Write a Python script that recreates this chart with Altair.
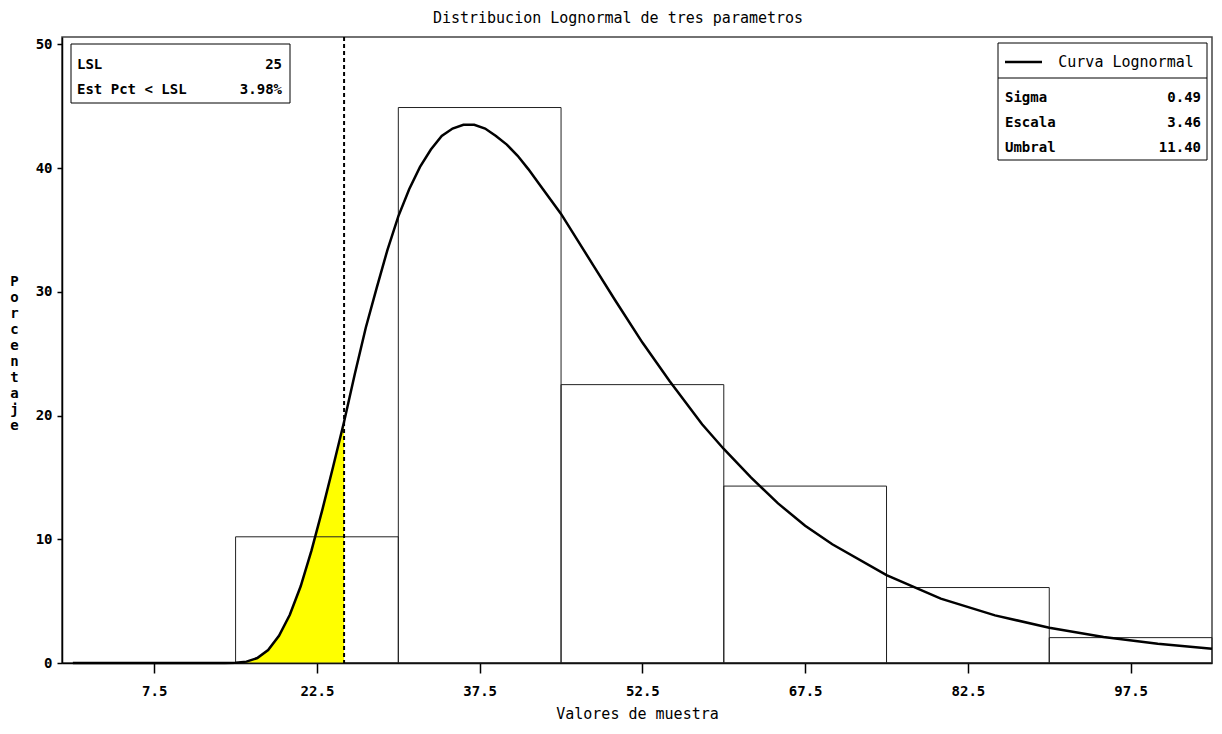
import altair as alt
import pandas as pd

# ---------------- data ----------------
bin_start = [15, 30, 45, 60, 75, 90]
bin_end = [30, 45, 60, 75, 90, 105]
bin_pct = [10.2, 44.9, 22.5, 14.3, 6.1, 2.05]

curve_x = [0, 5, 10, 12, 14, 15, 16, 17, 18, 19, 20, 21, 22, 23, 24, 25, 26, 27,
           28, 29, 30, 31, 32, 33, 34, 35, 36, 37, 38, 39, 40, 41, 42, 43, 45,
           46.5, 48, 50, 52.5, 55, 58, 60, 62.5, 65, 67.5, 70, 75, 80, 85, 90,
           95, 100, 105]
curve_y = [0, 0, 0, 0, 0, 0.02, 0.11, 0.40, 1.05, 2.2, 3.9, 6.2, 9.1, 12.4, 15.9,
           19.5, 23.4, 27.1, 30.3, 33.4, 36.1, 38.3, 40.1, 41.5, 42.6, 43.2, 43.5,
           43.5, 43.2, 42.6, 41.9, 41.0, 39.9, 38.7, 36.3, 34.2, 32.1, 29.3, 25.9,
           22.8, 19.3, 17.3, 15.0, 12.9, 11.1, 9.6, 7.1, 5.2, 3.85, 2.85, 2.1,
           1.55, 1.15]

x_ticks = [7.5, 22.5, 37.5, 52.5, 67.5, 82.5, 97.5]
y_ticks = [0, 10, 20, 30, 40, 50]
lsl_value = [25]

lsl_labels = ["LSL", "Est Pct < LSL"]
lsl_texts = ["25", "3.98%"]
fit_labels = ["Sigma", "Escala", "Umbral"]
fit_texts = ["0.49", "3.46", "11.40"]
legend_label = "Curva Lognormal"

title_text = "Distribucion Lognormal de tres parametros"
x_title = "Valores de muestra"
y_title = "Porcentaje"

# ---------------- layout ----------------
FONT = "DejaVu Sans Mono"
W, H = 1150, 626
PAD = {"left": 54, "top": 29, "right": 2, "bottom": 59}
X_DOMAIN = [-1, 105]
Y_DOMAIN = [0, 50.6]

bars = pd.DataFrame({"lo": bin_start, "hi": bin_end, "pct": bin_pct})
curve = pd.DataFrame({"x": curve_x, "y": curve_y})
lsl_df = pd.DataFrame({"lsl": lsl_value})

xs = alt.Scale(domain=X_DOMAIN, nice=False, zero=False)
ys = alt.Scale(domain=Y_DOMAIN, nice=False, zero=False)

x_axis = alt.Axis(values=x_ticks, format=".1f", title=x_title, grid=False,
                  labelFont=FONT, labelFontSize=14, labelFontWeight="bold",
                  labelColor="black", labelPadding=11, labelFlush=False,
                  tickSize=10, tickColor="black", tickWidth=1.5,
                  domainColor="black", domainWidth=1.5,
                  titleFont=FONT, titleFontSize=15, titleFontWeight="normal",
                  titleColor="black", titlePadding=8)
y_axis = alt.Axis(values=y_ticks, format="d", title=list(y_title), grid=False,
                  titleAngle=0, titleX=-48, titleY=237, titleAlign="center",
                  titleBaseline="top", titleLineHeight=16,
                  titleFont=FONT, titleFontSize=14, titleFontWeight="bold",
                  titleColor="black",
                  labelFont=FONT, labelFontSize=14, labelFontWeight="bold",
                  labelColor="black", labelPadding=5,
                  tickSize=5, tickColor="black", tickWidth=1.5,
                  domainColor="black", domainWidth=1.5)

area = alt.Chart(curve).transform_filter(
    (alt.datum.x >= 15) & (alt.datum.x <= lsl_value[0])
).mark_area(color="#FFFF00", opacity=1).encode(
    x=alt.X("x:Q", scale=xs, axis=x_axis),
    y=alt.Y("y:Q", scale=ys, axis=y_axis),
)

hist = alt.Chart(bars).mark_rect(fill="white", fillOpacity=0, stroke="#222",
                                  strokeWidth=1).encode(
    x=alt.X("lo:Q", scale=xs),
    x2="hi:Q",
    y=alt.Y("pct:Q", scale=ys),
    y2=alt.datum(0),
)

rule = alt.Chart(lsl_df).mark_rule(color="black", strokeWidth=2,
                                   strokeDash=[4, 3]).encode(
    x=alt.X("lsl:Q", scale=xs),
    y=alt.value(0),
    y2=alt.value(H),
)

line = alt.Chart(curve).mark_line(color="black", strokeWidth=2.5).encode(
    x=alt.X("x:Q", scale=xs),
    y=alt.Y("y:Q", scale=ys),
)

one = pd.DataFrame({"k": [0]})


def box(x1, x2, y1, y2):
    return alt.Chart(one).mark_rect(fill="white", stroke="black",
                                    strokeWidth=1).encode(
        x=alt.value(x1), x2=alt.value(x2), y=alt.value(y1), y2=alt.value(y2))


def hline(x1, x2, y, width=1):
    return alt.Chart(one).mark_rule(color="black", strokeWidth=width).encode(
        x=alt.value(x1), x2=alt.value(x2), y=alt.value(y))


def txt(s, x, y, align="left", weight="bold", size=14):
    return alt.Chart(pd.DataFrame({"t": [s]})).mark_text(
        align=align, baseline="middle", font=FONT, fontSize=size,
        fontWeight=weight, color="black").encode(
        x=alt.value(x), y=alt.value(y), text="t:N")


layers = [area, hist, rule, line]

# inset: LSL table (top-left)
layers.append(box(9, 228, 7, 66))
for i, (lab, val) in enumerate(zip(lsl_labels, lsl_texts)):
    yy = 28 + 25 * i
    layers.append(txt(lab, 15, yy))
    layers.append(txt(val, 220, yy, align="right"))

# inset: fitted curve table (top-right)
layers.append(box(936, 1145, 6, 123))
layers.append(hline(936, 1145, 41))
layers.append(hline(943, 980, 25, width=2.5))
layers.append(txt(legend_label, 1064, 25, align="center", weight="normal",
                  size=15))
for i, (lab, val) in enumerate(zip(fit_labels, fit_texts)):
    yy = 61 + 25 * i
    layers.append(txt(lab, 943, yy))
    layers.append(txt(val, 1139, yy, align="right"))

# chart title
layers.append(txt(title_text, 556, -19, align="center", weight="normal",
                  size=15))

chart = alt.layer(*layers).properties(
    width=W, height=H, padding=PAD, autosize=alt.AutoSizeParams(type="none"),
    background="white",
).configure_view(stroke="#444", strokeWidth=1.5)

chart.save("out.html", embed_options={"renderer": "svg", "actions": False})
